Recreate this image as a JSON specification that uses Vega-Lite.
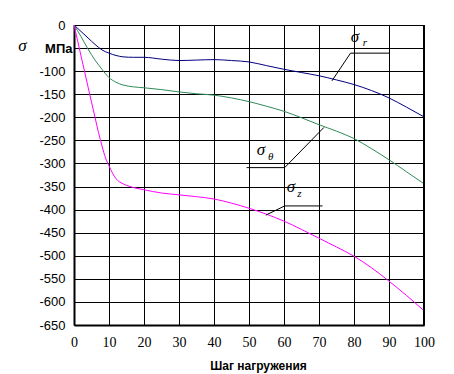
{
  "$schema": "https://vega.github.io/schema/vega-lite/v6.json",
  "width": 350,
  "height": 300,
  "autosize": "none",
  "padding": {"left": 74, "top": 25, "right": 30, "bottom": 49},
  "background": "white",
  "config": {"view": {"stroke": null}},
  "datasets": {
    "curves": [
      {"x": 0, "y": 0, "series": "σr"},
      {"x": 2, "y": -14, "series": "σr"},
      {"x": 4, "y": -28, "series": "σr"},
      {"x": 6, "y": -42, "series": "σr"},
      {"x": 8, "y": -54, "series": "σr"},
      {"x": 10, "y": -61, "series": "σr"},
      {"x": 12, "y": -66, "series": "σr"},
      {"x": 14, "y": -69, "series": "σr"},
      {"x": 17, "y": -70, "series": "σr"},
      {"x": 20, "y": -70, "series": "σr"},
      {"x": 25, "y": -74, "series": "σr"},
      {"x": 30, "y": -77, "series": "σr"},
      {"x": 35, "y": -76, "series": "σr"},
      {"x": 40, "y": -75, "series": "σr"},
      {"x": 45, "y": -77, "series": "σr"},
      {"x": 50, "y": -80, "series": "σr"},
      {"x": 55, "y": -88, "series": "σr"},
      {"x": 60, "y": -96, "series": "σr"},
      {"x": 65, "y": -103, "series": "σr"},
      {"x": 70, "y": -110, "series": "σr"},
      {"x": 75, "y": -119, "series": "σr"},
      {"x": 80, "y": -129, "series": "σr"},
      {"x": 85, "y": -142, "series": "σr"},
      {"x": 90, "y": -158, "series": "σr"},
      {"x": 95, "y": -178, "series": "σr"},
      {"x": 100, "y": -199, "series": "σr"},
      {"x": 0, "y": 0, "series": "σθ"},
      {"x": 2, "y": -25, "series": "σθ"},
      {"x": 4, "y": -52, "series": "σθ"},
      {"x": 6, "y": -76, "series": "σθ"},
      {"x": 8, "y": -96, "series": "σθ"},
      {"x": 10, "y": -114, "series": "σθ"},
      {"x": 12, "y": -124, "series": "σθ"},
      {"x": 14, "y": -130, "series": "σθ"},
      {"x": 17, "y": -134, "series": "σθ"},
      {"x": 20, "y": -136, "series": "σθ"},
      {"x": 25, "y": -140, "series": "σθ"},
      {"x": 30, "y": -145, "series": "σθ"},
      {"x": 35, "y": -149, "series": "σθ"},
      {"x": 40, "y": -152, "series": "σθ"},
      {"x": 45, "y": -158, "series": "σθ"},
      {"x": 50, "y": -166, "series": "σθ"},
      {"x": 55, "y": -176, "series": "σθ"},
      {"x": 60, "y": -187, "series": "σθ"},
      {"x": 65, "y": -201, "series": "σθ"},
      {"x": 70, "y": -216, "series": "σθ"},
      {"x": 75, "y": -230, "series": "σθ"},
      {"x": 80, "y": -246, "series": "σθ"},
      {"x": 85, "y": -268, "series": "σθ"},
      {"x": 90, "y": -292, "series": "σθ"},
      {"x": 95, "y": -318, "series": "σθ"},
      {"x": 100, "y": -344, "series": "σθ"},
      {"x": 0, "y": 0, "series": "σz"},
      {"x": 1, "y": -33, "series": "σz"},
      {"x": 2, "y": -67, "series": "σz"},
      {"x": 3, "y": -100, "series": "σz"},
      {"x": 4, "y": -134, "series": "σz"},
      {"x": 5, "y": -167, "series": "σz"},
      {"x": 6, "y": -200, "series": "σz"},
      {"x": 7, "y": -233, "series": "σz"},
      {"x": 8, "y": -262, "series": "σz"},
      {"x": 9, "y": -288, "series": "σz"},
      {"x": 10, "y": -305, "series": "σz"},
      {"x": 11, "y": -321, "series": "σz"},
      {"x": 12, "y": -333, "series": "σz"},
      {"x": 14, "y": -344, "series": "σz"},
      {"x": 16, "y": -350, "series": "σz"},
      {"x": 18, "y": -354, "series": "σz"},
      {"x": 20, "y": -357, "series": "σz"},
      {"x": 25, "y": -364, "series": "σz"},
      {"x": 30, "y": -368, "series": "σz"},
      {"x": 35, "y": -372, "series": "σz"},
      {"x": 40, "y": -377, "series": "σz"},
      {"x": 45, "y": -386, "series": "σz"},
      {"x": 50, "y": -397, "series": "σz"},
      {"x": 55, "y": -410, "series": "σz"},
      {"x": 60, "y": -425, "series": "σz"},
      {"x": 65, "y": -443, "series": "σz"},
      {"x": 70, "y": -462, "series": "σz"},
      {"x": 75, "y": -481, "series": "σz"},
      {"x": 80, "y": -501, "series": "σz"},
      {"x": 85, "y": -526, "series": "σz"},
      {"x": 90, "y": -555, "series": "σz"},
      {"x": 95, "y": -586, "series": "σz"},
      {"x": 100, "y": -619, "series": "σz"}
    ],
    "leaders": [
      {"x": 79, "y": -61, "x2": 90.2, "y2": -61},
      {"x": 79, "y": -61, "x2": 73.7, "y2": -121},
      {"x": 49.3, "y": -309, "x2": 60.2, "y2": -309},
      {"x": 60.2, "y": -309, "x2": 71.4, "y2": -222},
      {"x": 60.2, "y": -392, "x2": 71, "y2": -392},
      {"x": 60.2, "y": -392, "x2": 54.8, "y2": -412}
    ],
    "border": [{"x": 100, "y": 0, "x2": 100, "y2": -650}],
    "sigmas": [
      {"x": 80.3, "y": -37, "t": "σ"},
      {"x": 53.4, "y": -282, "t": "σ"},
      {"x": 62, "y": -362, "t": "σ"}
    ],
    "subs": [
      {"x": 82.5, "y": -46, "t": "r"},
      {"x": 55.4, "y": -292, "t": "θ"},
      {"x": 63.8, "y": -373, "t": "z"}
    ]
  },
  "encoding": {
    "x": {
      "field": "x",
      "type": "quantitative",
      "scale": {"domain": [0, 100], "nice": false},
      "axis": {
        "values": [0, 10, 20, 30, 40, 50, 60, 70, 80, 90, 100],
        "labelOverlap": false,
        "labelBound": false,
        "grid": true,
        "gridColor": "black",
        "gridWidth": 1,
        "gridOpacity": 1,
        "ticks": false,
        "domainColor": "black",
        "domainWidth": 2,
        "labelFont": "Liberation Serif",
        "labelFontSize": 14,
        "labelColor": "black",
        "labelPadding": 10,
        "labelFlush": false,
        "title": "Шаг нагружения",
        "titleFont": "Liberation Sans",
        "titleFontWeight": "bold",
        "titleFontSize": 12,
        "titleColor": "black",
        "titleX": 184,
        "titleY": 44,
        "titleBaseline": "alphabetic",
        "titleAlign": "center"
      }
    },
    "y": {
      "field": "y",
      "type": "quantitative",
      "scale": {"domain": [-650, 0], "nice": false},
      "axis": {
        "values": [0, -50, -100, -150, -200, -250, -300, -350, -400, -450, -500, -550, -600, -650],
        "labelOverlap": false,
        "labelBound": false,
        "grid": true,
        "gridColor": "black",
        "gridWidth": 1,
        "gridOpacity": 1,
        "ticks": false,
        "domainColor": "black",
        "domainWidth": 2,
        "labelFont": "Liberation Sans",
        "labelFontSize": 13,
        "labelColor": "black",
        "labelExpr": "datum.value == -50 ? 'МПа' : (datum.value < 0 ? '-' + abs(datum.value) : '0')",
        "labelFontWeight": {"expr": "datum.value == -50 ? 'bold' : 'normal'"},
        "labelPadding": {"expr": "datum.value == -50 ? 2 : 9"},
        "title": "σ",
        "titleFont": "Liberation Serif",
        "titleFontStyle": "italic",
        "titleFontWeight": "normal",
        "titleFontSize": 17,
        "titleColor": "black",
        "titleAngle": 0,
        "titleX": -52,
        "titleY": 25,
        "titleAlign": "center",
        "titleBaseline": "alphabetic"
      }
    }
  },
  "layer": [
    {
      "data": {"name": "curves"},
      "mark": {"type": "line", "strokeWidth": 1, "interpolate": "monotone"},
      "encoding": {
        "color": {
          "field": "series",
          "type": "nominal",
          "scale": {"domain": ["σr", "σθ", "σz"], "range": ["#000080", "#2e8b57", "#ff00ff"]},
          "legend": null
        }
      }
    },
    {
      "data": {"name": "leaders"},
      "mark": {"type": "rule", "color": "black", "strokeWidth": 1},
      "encoding": {
        "x2": {"field": "x2"},
        "y2": {"field": "y2"}
      }
    },
    {
      "data": {"name": "border"},
      "mark": {"type": "rule", "color": "black", "strokeWidth": 2},
      "encoding": {
        "x2": {"field": "x2"},
        "y2": {"field": "y2"}
      }
    },
    {
      "data": {"name": "sigmas"},
      "mark": {"type": "text", "font": "Liberation Serif", "fontStyle": "italic", "fontSize": 17, "align": "center", "baseline": "alphabetic", "color": "black"},
      "encoding": {"text": {"field": "t"}}
    },
    {
      "data": {"name": "subs"},
      "mark": {"type": "text", "font": "Liberation Serif", "fontStyle": "italic", "fontSize": 11, "align": "left", "baseline": "alphabetic", "color": "black"},
      "encoding": {"text": {"field": "t"}}
    }
  ]
}
